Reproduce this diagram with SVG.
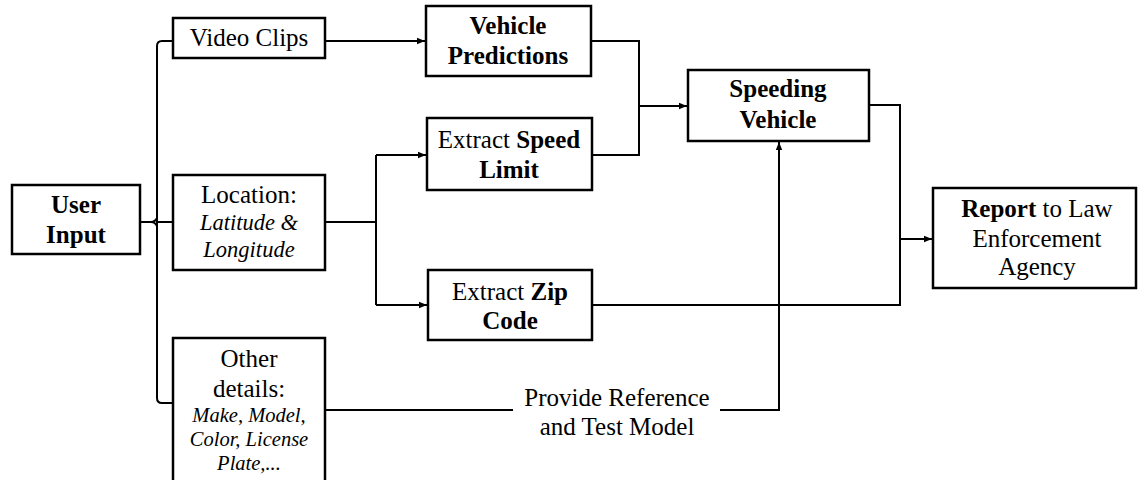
<svg xmlns="http://www.w3.org/2000/svg" width="1138" height="480" viewBox="0 0 1138 480">
<style>
.box{fill:#fff;stroke:#000;stroke-width:2.5}
.ln{fill:none;stroke:#000;stroke-width:2}
text{font-family:"Liberation Serif","Times New Roman",Times,serif;font-size:25px;fill:#000;text-anchor:middle}
.b{font-weight:bold}
.i{font-style:italic}
.s{font-size:20.5px}
.m{font-size:22.5px}
</style>
<defs>
<marker id="arr" viewBox="0 0 10 10" refX="10" refY="5" markerWidth="8" markerHeight="8" markerUnits="userSpaceOnUse" orient="auto">
<path d="M0,1 L10,5 L0,9 Z" fill="#000"/>
</marker>
</defs>
<g id="connectors">
<path class="ln" d="M173,41 H162 Q157,41 157,46 V398 Q157,403 162,403 H173"/>
<path class="ln" d="M140,222 H151 Q155,222 157,218 M151,222 Q155,222 157,226 M157,222 H173"/>
<path class="ln" d="M325,41 H425" marker-end="url(#arr)"/>
<path class="ln" d="M325,222 H376"/>
<path class="ln" d="M376,155 V305"/>
<path class="ln" d="M376,155 H426" marker-end="url(#arr)"/>
<path class="ln" d="M376,305 H427" marker-end="url(#arr)"/>
<path class="ln" d="M591,41 H639 V155 H592"/>
<path class="ln" d="M639,106 H687" marker-end="url(#arr)"/>
<path class="ln" d="M869,105 H900 V305 H592"/>
<path class="ln" d="M900,239 H932" marker-end="url(#arr)"/>
<path class="ln" d="M325,410 H513"/>
<path class="ln" d="M720,410 H779 V142" marker-end="url(#arr)"/>
</g>
<g id="user-input">
<rect class="box" x="12" y="185" width="128" height="69"/>
<text class="b" x="76" y="213">User</text>
<text class="b" x="76" y="243">Input</text>
</g>
<g id="video-clips">
<rect class="box" x="173" y="18" width="152" height="40"/>
<text x="249" y="46">Video Clips</text>
</g>
<g id="location">
<rect class="box" x="173" y="175" width="152" height="95"/>
<text x="249" y="203">Location:</text>
<text class="i m" x="249" y="230">Latitude &amp;</text>
<text class="i m" x="249" y="257">Longitude</text>
</g>
<g id="other-details">
<rect class="box" x="173" y="338" width="152" height="150"/>
<text x="249" y="367">Other</text>
<text x="249" y="397">details:</text>
<text class="i s" x="249" y="422">Make, Model,</text>
<text class="i s" x="249" y="446">Color, License</text>
<text class="i s" x="249" y="470">Plate,...</text>
</g>
<g id="vehicle-predictions">
<rect class="box" x="426" y="6" width="165" height="70"/>
<text class="b" x="508" y="34">Vehicle</text>
<text class="b" x="508" y="64">Predictions</text>
</g>
<g id="speed-limit">
<rect class="box" x="427" y="118" width="165" height="72"/>
<text x="509" y="148">Extract <tspan class="b">Speed</tspan></text>
<text class="b" x="509" y="178">Limit</text>
</g>
<g id="zip-code">
<rect class="box" x="428" y="270" width="164" height="70"/>
<text x="510" y="300">Extract <tspan class="b">Zip</tspan></text>
<text class="b" x="510" y="329">Code</text>
</g>
<g id="speeding-vehicle">
<rect class="box" x="688" y="70" width="181" height="71"/>
<text class="b" x="778" y="97">Speeding</text>
<text class="b" x="778" y="128">Vehicle</text>
</g>
<g id="report">
<rect class="box" x="933" y="188" width="203" height="100"/>
<text x="1037" y="217"><tspan class="b">Report</tspan> to Law</text>
<text x="1037" y="247">Enforcement</text>
<text x="1037" y="275">Agency</text>
</g>
<g id="label">
<text x="617" y="406">Provide Reference</text>
<text x="617" y="435">and Test Model</text>
</g>
</svg>
